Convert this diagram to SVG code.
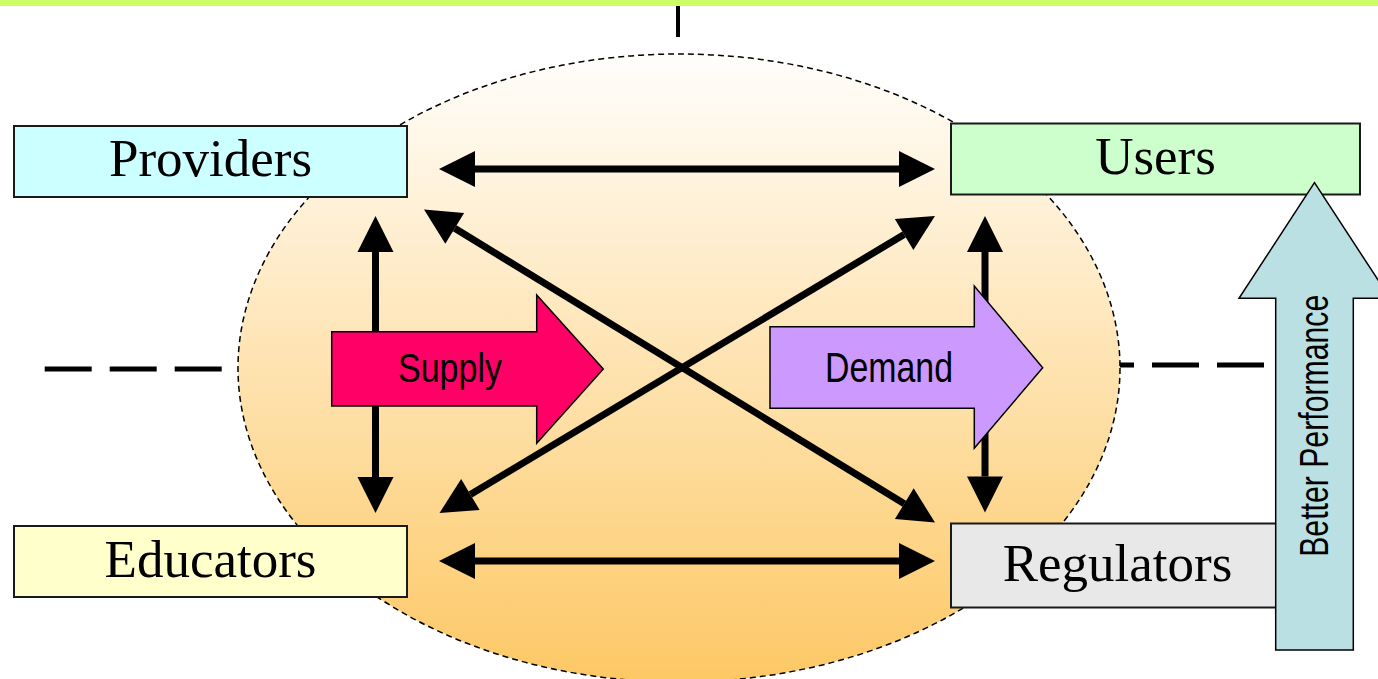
<svg xmlns="http://www.w3.org/2000/svg" width="1378" height="679" viewBox="0 0 1378 679">
  <style>
    .box { stroke: #1a1a1a; stroke-width: 2; }
    .label { font-family: "Liberation Serif", "Times New Roman", serif; font-size: 53px; fill: #000; text-anchor: middle; }
    .narrow { font-family: "Liberation Sans Narrow", "Liberation Sans", Arial, sans-serif; fill: #000; text-anchor: middle; }
    .link { stroke: #000; stroke-width: 7; fill: none; marker-start: url(#head); marker-end: url(#head); }
    .dash { stroke: #000; stroke-width: 5; stroke-dasharray: 47 18; fill: none; }
    .block { stroke: #000; stroke-width: 1.5; stroke-linejoin: miter; }
  </style>
  <defs>
    <linearGradient id="core" x1="0" y1="0" x2="0" y2="1">
      <stop offset="0" stop-color="#fffefc"/>
      <stop offset="1" stop-color="#fdc865"/>
    </linearGradient>
    <marker id="head" markerUnits="userSpaceOnUse" markerWidth="36" markerHeight="36" refX="0" refY="18" orient="auto-start-reverse" overflow="visible">
      <path d="M0,0 L36,18 L0,36 z" fill="#000"/>
    </marker>
  </defs>

  <rect width="1378" height="679" fill="#ffffff"/>
  <!-- header band and its drop line -->
  <rect x="0" y="0" width="1378" height="6" fill="#ccff66"/>
  <line x1="678" y1="6" x2="678" y2="37" stroke="#000" stroke-width="4"/>

  <!-- dashed guide lines -->
  <line class="dash" x1="44.7" y1="369" x2="222" y2="369"/>
  <line class="dash" x1="1264" y1="365" x2="1118" y2="365"/>

  <!-- central field -->
  <ellipse id="field" cx="679" cy="368" rx="441" ry="314" fill="url(#core)" stroke="#000" stroke-width="1.5" stroke-dasharray="6 4"/>

  <!-- connectors -->
  <g id="connectors">
    <line class="link" x1="475" y1="169" x2="899" y2="169"/>
    <line class="link" x1="475" y1="561" x2="899" y2="561"/>
    <line class="link" x1="375.5" y1="252" x2="375.5" y2="477"/>
    <line class="link" x1="985" y1="252" x2="985" y2="476.5"/>
    <line class="link" x1="454.7" y1="228.3" x2="904.3" y2="503.7"/>
    <line class="link" x1="904.1" y1="234.5" x2="470.4" y2="494.5"/>
  </g>

  <!-- flow arrows -->
  <g id="supply">
    <polygon class="block" fill="#ff0066" points="331.7,331.7 536.7,331.7 536.7,295 603.3,369 536.7,443.3 536.7,406 331.7,406"/>
    <text class="narrow" x="450" y="381.7" font-size="41" textLength="104" lengthAdjust="spacingAndGlyphs">Supply</text>
  </g>
  <g id="demand">
    <polygon class="block" fill="#cc99ff" points="770,326.7 974.3,326.7 974.3,286 1042.7,367.7 974.3,448.3 974.3,408.3 770,408.3"/>
    <text class="narrow" x="889" y="381.7" font-size="42" textLength="128" lengthAdjust="spacingAndGlyphs">Demand</text>
  </g>

  <!-- actor boxes -->
  <g id="providers">
    <rect class="box" x="14" y="126" width="393" height="71" fill="#ccffff"/>
    <text class="label" x="210.5" y="176">Providers</text>
  </g>
  <g id="educators">
    <rect class="box" x="14" y="526" width="393" height="71" fill="#ffffcc"/>
    <text class="label" x="210.5" y="577">Educators</text>
  </g>
  <g id="users">
    <rect class="box" x="951" y="123.5" width="409" height="71" fill="#ccffcc"/>
    <text class="label" x="1155.5" y="174">Users</text>
  </g>
  <g id="regulators">
    <rect class="box" x="951" y="523.5" width="330" height="84" fill="#e8e8e8"/>
    <text class="label" x="1117.5" y="581">Regulators</text>
  </g>

  <!-- upward performance arrow -->
  <g id="performance">
    <polygon class="block" fill="#bbe0e3" points="1314.5,182.7 1390,298.3 1353.3,298.3 1353.3,650 1275.7,650 1275.7,298.3 1239,298.3"/>
    <text class="narrow" transform="translate(1328 425.8) rotate(-90)" x="0" y="0" font-size="40" textLength="262" lengthAdjust="spacingAndGlyphs">Better Performance</text>
  </g>
</svg>
